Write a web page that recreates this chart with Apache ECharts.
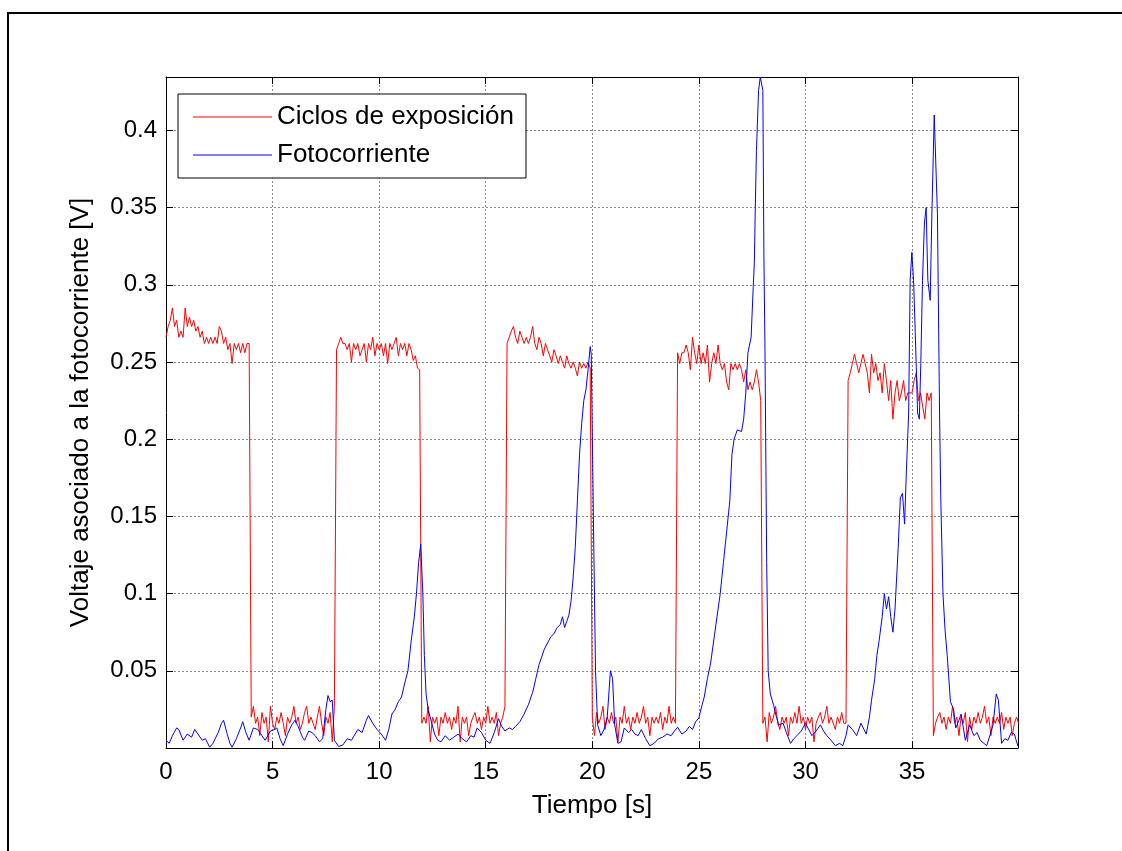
<!DOCTYPE html>
<html>
<head>
<meta charset="utf-8">
<script src="https://cdn.jsdelivr.net/npm/echarts@6/dist/echarts.min.js"></script>
<style>
html,body{margin:0;padding:0;background:#fff;}
#chart{width:1122px;height:851px;}
</style>
</head>
<body>
<div id="chart"></div>
<script>
// ---------------- DATA ----------------
const seriesNames = ['Ciclos de exposición', 'Fotocorriente'];
const xTickValues = [0, 5, 10, 15, 20, 25, 30, 35];
const yTickValues = [0.05, 0.1, 0.15, 0.2, 0.25, 0.3, 0.35, 0.4];
const xAxisTitle = 'Tiempo [s]';
const yAxisTitle = 'Voltaje asociado a la fotocorriente [V]';

// Red: sampled every 0.1 s from t = 0 s
const redSampleStep = 0.1;
const redV = [
  // 0-4 s (exposed)
  0.266,0.273,0.277,0.285,0.273,0.277,0.266,0.270,0.266,0.285,
  0.273,0.279,0.273,0.277,0.270,0.273,0.266,0.270,0.262,0.266,
  0.262,0.266,0.262,0.266,0.262,0.273,0.270,0.262,0.266,0.258,
  0.262,0.249,0.262,0.258,0.262,0.256,0.262,0.256,0.262,0.262,
  // 4-8 s
  0.020,0.027,0.016,0.020,0.008,0.023,0.016,0.020,0.004,0.027,
  0.016,0.012,0.020,0.016,0.023,0.016,0.008,0.020,0.016,0.020,
  0.027,0.016,0.020,0.012,0.016,0.023,0.027,0.016,0.020,0.016,
  0.012,0.020,0.027,0.016,0.008,0.020,0.016,0.023,0.004,0.027,
  // 8-12 s
  0.258,0.262,0.266,0.262,0.262,0.258,0.262,0.250,0.262,0.258,
  0.262,0.254,0.258,0.262,0.250,0.262,0.258,0.266,0.254,0.262,
  0.258,0.262,0.254,0.262,0.249,0.262,0.258,0.262,0.266,0.254,
  0.262,0.258,0.262,0.254,0.262,0.258,0.251,0.254,0.246,0.245,
  // 12-16 s
  0.016,0.020,0.016,0.027,0.004,0.020,0.016,0.020,0.008,0.020,
  0.016,0.023,0.016,0.020,0.012,0.020,0.016,0.027,0.004,0.020,
  0.016,0.020,0.008,0.016,0.020,0.023,0.016,0.020,0.012,0.020,
  0.016,0.027,0.016,0.020,0.016,0.023,0.008,0.016,0.020,0.027,
  // 16-20 s
  0.262,0.266,0.270,0.273,0.266,0.262,0.270,0.266,0.262,0.266,
  0.262,0.266,0.273,0.262,0.258,0.266,0.262,0.254,0.262,0.258,
  0.254,0.250,0.258,0.254,0.249,0.254,0.250,0.246,0.254,0.249,
  0.246,0.250,0.246,0.241,0.250,0.246,0.249,0.246,0.250,0.246,
  // 20-24 s
  0.020,0.008,0.023,0.016,0.020,0.027,0.012,0.020,0.016,0.023,
  0.016,0.020,0.004,0.020,0.016,0.027,0.016,0.020,0.012,0.020,
  0.016,0.023,0.016,0.020,0.027,0.016,0.020,0.008,0.020,0.016,
  0.020,0.016,0.023,0.012,0.020,0.016,0.027,0.016,0.020,0.016,
  // 24-28 s
  0.256,0.249,0.256,0.256,0.261,0.256,0.245,0.266,0.256,0.249,
  0.261,0.249,0.256,0.249,0.261,0.237,0.249,0.256,0.249,0.261,
  0.249,0.245,0.249,0.237,0.232,0.249,0.245,0.249,0.245,0.249,
  0.245,0.237,0.245,0.232,0.237,0.232,0.237,0.245,0.237,0.225,
  // 28-32 s
  0.016,0.020,0.004,0.023,0.016,0.020,0.027,0.016,0.012,0.020,
  0.016,0.020,0.008,0.020,0.016,0.023,0.016,0.027,0.016,0.020,
  0.012,0.020,0.016,0.020,0.004,0.016,0.020,0.023,0.016,0.020,
  0.027,0.016,0.020,0.016,0.012,0.020,0.016,0.023,0.016,0.016,
  // 32-36 s
  0.238,0.243,0.249,0.255,0.249,0.243,0.249,0.255,0.249,0.243,
  0.230,0.255,0.243,0.249,0.238,0.243,0.230,0.249,0.238,0.225,
  0.238,0.213,0.230,0.238,0.225,0.230,0.238,0.225,0.230,0.230,
  0.230,0.238,0.243,0.225,0.230,0.221,0.213,0.230,0.225,0.230,
  // 36-40 s
  0.008,0.016,0.020,0.023,0.016,0.020,0.012,0.020,0.016,0.027,
  0.016,0.020,0.008,0.020,0.016,0.023,0.004,0.020,0.012,0.020,
  0.016,0.023,0.016,0.020,0.027,0.016,0.020,0.008,0.020,0.016,
  0.020,0.016,0.023,0.012,0.020,0.016,0.020,0.008,0.016,0.020,
  0.016
];

// Blue: sample times (s) and values (V)
const blueT = [
  0.0,0.15,0.3,0.5,0.6,0.8,1.0,1.2,1.35,1.5,1.7,1.85,2.05,2.2,2.45,2.6,2.7,2.85,3.0,3.1,
  3.3,3.5,3.6,3.75,3.9,4.1,4.3,4.5,4.65,4.9,5.1,5.2,5.35,5.5,5.7,5.9,6.05,6.2,6.4,6.5,
  6.7,6.85,7.0,7.2,7.35,7.5,7.6,7.7,7.8,7.9,8.1,8.3,8.5,8.7,9.0,9.2,9.4,9.5,9.7,9.9,
  10.1,10.3,10.45,10.6,10.75,10.9,11.05,11.2,11.35,11.5,11.65,11.75,11.85,11.95,12.05,12.12,12.2,12.3,12.45,12.6,
  12.75,12.9,13.1,13.3,13.5,13.7,13.9,14.1,14.3,14.45,14.6,14.8,15.0,15.2,15.4,15.6,15.75,15.9,16.1,16.25,
  16.4,16.6,16.8,17.0,17.2,17.35,17.5,17.6,17.75,17.9,18.05,18.2,18.35,18.5,18.6,18.7,18.8,18.9,19.0,19.1,
  19.2,19.3,19.4,19.5,19.6,19.7,19.8,19.9,19.95,20.05,20.15,20.25,20.4,20.55,20.7,20.85,20.95,21.05,21.2,21.35,
  21.5,21.7,21.85,22.0,22.15,22.3,22.5,22.7,22.9,23.1,23.3,23.5,23.7,23.85,24.0,24.2,24.4,24.55,24.7,24.85,
  25.0,25.15,25.25,25.4,25.55,25.7,25.85,26.0,26.15,26.3,26.45,26.55,26.65,26.8,27.0,27.1,27.2,27.3,27.45,27.55,
  27.6,27.65,27.7,27.8,27.88,28.0,28.05,28.1,28.18,28.25,28.35,28.5,28.6,28.75,28.95,29.1,29.3,29.45,29.6,29.8,
  30.0,30.15,30.3,30.5,30.7,30.85,31.0,31.2,31.4,31.6,31.75,31.9,32.0,32.2,32.4,32.6,32.85,33.0,33.1,33.25,
  33.35,33.45,33.6,33.7,33.8,33.9,34.0,34.1,34.2,34.35,34.45,34.55,34.65,34.73,34.84,34.91,34.99,35.07,35.15,35.26,
  35.34,35.41,35.49,35.58,35.66,35.74,35.85,35.93,36.04,36.12,36.19,36.29,36.35,36.45,36.55,36.65,36.8,36.95,37.05,37.2,
  37.3,37.5,37.7,37.9,38.05,38.2,38.5,38.65,38.8,38.95,39.05,39.2,39.35,39.5,39.65,39.8,39.97
];
const blueV = [
  0.005,0.003,0.008,0.013,0.012,0.005,0.009,0.007,0.012,0.009,0.005,0.006,0.0005,0.003,0.010,0.016,0.018,0.010,0.003,0.0005,
  0.006,0.013,0.017,0.010,0.005,0.013,0.012,0.008,0.005,0.011,0.012,0.013,0.006,0.0015,0.009,0.015,0.018,0.014,0.007,0.005,
  0.011,0.010,0.008,0.004,0.006,0.025,0.034,0.030,0.031,0.005,0.001,0.002,0.006,0.005,0.012,0.010,0.018,0.021,0.016,0.012,
  0.009,0.005,0.012,0.022,0.025,0.030,0.033,0.042,0.050,0.069,0.085,0.100,0.120,0.132,0.100,0.060,0.035,0.025,0.017,0.009,
  0.005,0.004,0.008,0.005,0.007,0.009,0.006,0.004,0.008,0.007,0.013,0.010,0.005,0.003,0.010,0.019,0.014,0.011,0.013,0.012,
  0.014,0.017,0.022,0.028,0.036,0.045,0.054,0.058,0.064,0.068,0.072,0.074,0.078,0.080,0.085,0.078,0.082,0.086,0.095,0.110,
  0.130,0.160,0.190,0.210,0.225,0.232,0.245,0.260,0.255,0.150,0.050,0.015,0.008,0.012,0.020,0.050,0.045,0.015,0.003,0.004,
  0.013,0.010,0.012,0.009,0.008,0.012,0.006,0.0015,0.003,0.006,0.007,0.009,0.008,0.011,0.0135,0.009,0.011,0.014,0.012,0.017,
  0.0195,0.028,0.033,0.045,0.055,0.070,0.085,0.100,0.120,0.140,0.160,0.190,0.200,0.206,0.205,0.213,0.230,0.256,0.266,0.299,
  0.314,0.353,0.387,0.426,0.4346,0.426,0.318,0.258,0.120,0.050,0.035,0.028,0.022,0.015,0.016,0.010,0.003,0.006,0.008,0.011,
  0.016,0.012,0.008,0.011,0.015,0.011,0.008,0.005,0.0015,0.003,0.0015,0.008,0.015,0.012,0.008,0.016,0.009,0.020,0.031,0.045,
  0.060,0.069,0.085,0.100,0.090,0.098,0.085,0.075,0.090,0.130,0.162,0.165,0.145,0.178,0.217,0.303,0.321,0.303,0.269,0.217,
  0.213,0.249,0.303,0.340,0.350,0.303,0.290,0.346,0.410,0.410,0.346,0.217,0.160,0.100,0.076,0.060,0.030,0.025,0.013,0.018,
  0.022,0.005,0.015,0.008,0.010,0.005,0.0015,0.008,0.015,0.035,0.031,0.003,0.006,0.005,0.010,0.009,0.001
];

// Axis ranges
const xRange = [0, 39.97];
const yRange = [0, 0.4346];

// ---------------- BUILD ----------------
const redData = redV.map((v, i) => [+(i * redSampleStep).toFixed(2), v]);
const blueData = blueT.map((t, i) => [t, blueV[i]]);

const FONT = 'Liberation Sans, Arial, Helvetica, sans-serif';
const isTick = (v, list) => list.some(t => Math.abs(t - v) < 1e-6);

const chart = echarts.init(document.getElementById('chart'), null, {renderer: 'canvas'});
const gridLine = {show: true, lineStyle: {color: '#8a8a8a', width: 1, type: [2, 2]}};
const axisLineStyle = {show: true, onZero: false, lineStyle: {color: '#000', width: 1}};

chart.setOption({
  animation: false,
  backgroundColor: '#fff',
  textStyle: {fontFamily: FONT},
  graphic: [{
    type: 'rect', silent: true, z: -10,
    shape: {x: 8, y: 13, width: 1300, height: 1000},
    style: {fill: 'none', stroke: '#000', lineWidth: 2}
  }],
  grid: {left: 166, right: 104, top: 77, bottom: 103, containLabel: false, outerBoundsMode: 'none'},
  legend: {
    show: true,
    orient: 'vertical',
    left: 178, top: 94,
    padding: [10, 12, 10, 15],
    itemGap: 12,
    itemWidth: 79,
    itemHeight: 1,
    itemTextGap: 10,
    icon: 'rect',
    backgroundColor: '#fff',
    borderColor: '#000',
    borderWidth: 1,
    borderRadius: 0,
    textStyle: {fontFamily: FONT, fontSize: 26, color: '#000'},
    data: seriesNames
  },
  xAxis: [{
    type: 'value', min: xRange[0], max: xRange[1], interval: 5,
    position: 'bottom',
    axisLine: axisLineStyle,
    axisTick: {show: true, inside: true, length: 7, lineStyle: {color: '#000'}},
    axisLabel: {
      show: true, margin: 12, fontSize: 24, color: '#000', fontFamily: FONT,
      showMinLabel: true, showMaxLabel: true,
      formatter: v => isTick(v, xTickValues) ? String(v) : ''
    },
    splitLine: gridLine,
    name: xAxisTitle, nameLocation: 'middle', nameGap: 45,
    nameTextStyle: {fontSize: 26, color: '#000', fontFamily: FONT}
  }, {
    type: 'value', min: xRange[0], max: xRange[1], interval: 5,
    position: 'top',
    axisLine: axisLineStyle,
    axisTick: {show: true, inside: true, length: 7, lineStyle: {color: '#000'}},
    axisLabel: {show: false},
    splitLine: {show: false}
  }],
  yAxis: [{
    type: 'value', min: yRange[0], max: yRange[1], interval: 0.05,
    position: 'left',
    axisLine: axisLineStyle,
    axisTick: {show: true, inside: true, length: 7, lineStyle: {color: '#000'}},
    axisLabel: {
      show: true, margin: 9, fontSize: 24, color: '#000', fontFamily: FONT,
      formatter: v => isTick(v, yTickValues) ? String(+v.toFixed(2)) : ''
    },
    splitLine: gridLine,
    name: yAxisTitle, nameLocation: 'middle', nameGap: 72, nameRotate: 90,
    nameTextStyle: {fontSize: 26, color: '#000', fontFamily: FONT}
  }, {
    type: 'value', min: yRange[0], max: yRange[1], interval: 0.05,
    position: 'right',
    axisLine: axisLineStyle,
    axisTick: {show: true, inside: true, length: 7, lineStyle: {color: '#000'}},
    axisLabel: {show: false},
    splitLine: {show: false}
  }],
  series: [{
    name: seriesNames[0], type: 'line', data: redData,
    xAxisIndex: 0, yAxisIndex: 0,
    showSymbol: false, symbol: 'none', clip: true,
    color: '#ff0000',
    lineStyle: {color: '#ff0000', width: 1},
    itemStyle: {color: '#ff0000'}
  }, {
    name: seriesNames[1], type: 'line', data: blueData,
    xAxisIndex: 0, yAxisIndex: 0,
    showSymbol: false, symbol: 'none', clip: true,
    color: '#0000ff',
    lineStyle: {color: '#0000ff', width: 1},
    itemStyle: {color: '#0000ff'}
  }]
});
</script>
</body>
</html>
